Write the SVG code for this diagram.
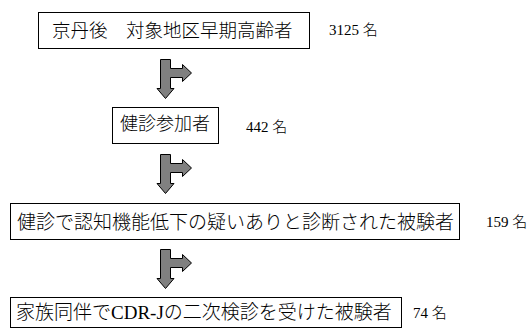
<svg xmlns="http://www.w3.org/2000/svg" xmlns:xlink="http://www.w3.org/1999/xlink" width="529" height="329" viewBox="0 0 529 329">
<style>
.box{fill:#fff;stroke:#000;stroke-width:1}
.t{font-family:"Liberation Serif","Noto Sans CJK JP",serif;font-size:19px;font-weight:300;fill:#000}
.n{font-family:"Liberation Serif","Noto Sans CJK JP",serif;font-size:15px;font-weight:300;fill:#000}
.arr{fill:#808080;stroke:#000;stroke-width:1;stroke-linejoin:miter}
</style>
<defs>
<path id="ar" d="M0,0 H10 V9 H22 V5 L31,13.5 L22,22 V18 H10 V29 H13.5 L5,39 L-3.5,29 H0 Z"/>
</defs>
<rect width="529" height="329" fill="#fff"/>
<g id="node1">
<rect class="box" x="38.5" y="12.5" width="271" height="36"/>
<text class="t" x="52" y="37" style="font-size:18.5px">京丹後　対象地区早期高齢者</text>
<text class="n" x="329" y="35">3125 名</text>
</g>
<g id="node2">
<rect class="box" x="112.5" y="107.5" width="106" height="36"/>
<text class="t" x="120" y="130" style="font-size:18px">健診参加者</text>
<text class="n" x="246" y="131.5">442 名</text>
</g>
<g id="node3">
<rect class="box" x="10.5" y="203.5" width="449" height="36"/>
<text class="t" x="17" y="229">健診で認知機能低下の疑いありと診断された被験者</text>
<text class="n" x="486" y="226.5">159 名</text>
</g>
<g id="node4">
<rect class="box" x="10.5" y="297.5" width="391" height="30"/>
<text class="t" x="16" y="318.5">家族同伴でCDR-Jの二次検診を受けた被験者</text>
<text class="n" x="413" y="318">74 名</text>
</g>
<g id="connectors">
<use class="arr" xlink:href="#ar" href="#ar" x="160.5" y="59.5"/>
<use class="arr" xlink:href="#ar" href="#ar" x="160.5" y="154.5"/>
<use class="arr" xlink:href="#ar" href="#ar" x="160.5" y="249.5"/>
</g>
</svg>
